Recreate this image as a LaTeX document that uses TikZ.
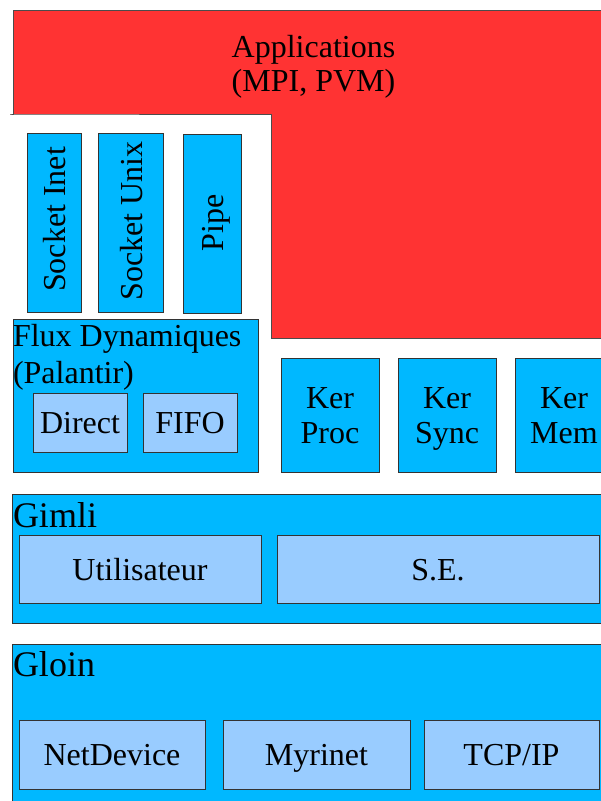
\documentclass[tikz,border=0pt]{standalone}
\usepackage{fontspec}
\setmainfont{Liberation Serif}
\definecolor{appred}{HTML}{FF3333}
\definecolor{layblue}{HTML}{00B8FF}
\definecolor{subblue}{HTML}{99CCFF}
\begin{document}
\begin{tikzpicture}[x=1pt,y=-1pt,
  every node/.style={font=\fontsize{32}{36}\selectfont, inner sep=0pt, outer sep=0pt},
  bluebox/.style={draw=black!80, line width=0.8pt, fill=layblue, anchor=north west},
  subbox/.style={draw=black!80, line width=0.8pt, fill=subblue, anchor=north west},
  txt/.style={anchor=base},
  ltxt/.style={anchor=base west},
  vtxt/.style={anchor=base, rotate=90},
  biglabel/.style={font=\fontsize{36}{40}\selectfont, anchor=base west}]
\useasboundingbox (0,0) rectangle (601,801);
\clip (0,0) rectangle (601,801);
% Applications
\draw[draw=black!70, line width=0.8pt, fill=appred]
  (13,10) -- (610,10) -- (610,338) -- (271,338) -- (271,114) -- (10,114) -- (13,114) -- cycle;
\node[txt] (app1) at (313.5,57) {Applications};
\node[txt] (app2) at (313.5,91) {(MPI, PVM)};
% Sockets
\node[bluebox, minimum width=54, minimum height=179] (sinet) at (27,133) {};
\node[vtxt] (sinettxt) at (65,219.5) {Socket Inet};
\node[bluebox, minimum width=65, minimum height=179] (sunix) at (98,133) {};
\node[vtxt] (sunixtxt) at (142,221) {Socket Unix};
\node[bluebox, minimum width=58, minimum height=179] (pipe) at (183,134) {};
\node[vtxt] (pipetxt) at (223,223) {Pipe};
% Flux
\node[bluebox, minimum width=245, minimum height=153] (flux) at (13,319) {};
\node[ltxt] (fluxtxt1) at (13,346) {Flux Dynamiques};
\node[ltxt] (fluxtxt2) at (13,383) {(Palantir)};
\node[subbox, minimum width=94, minimum height=59] (direct) at (33,393) {};
\node[txt] (directtxt) at (80,433) {Direct};
\node[subbox, minimum width=94, minimum height=59] (fifo) at (143,393) {};
\node[txt] (fifotxt) at (190,433) {FIFO};
% Kernel modules
\node[bluebox, minimum width=98, minimum height=114] (kproc) at (281,358) {};
\node[txt] (kproc1) at (330,408) {Ker};
\node[txt] (kproc2) at (330,443) {Proc};
\node[bluebox, minimum width=98, minimum height=114] (ksync) at (398,358) {};
\node[txt] (ksync1) at (447,408) {Ker};
\node[txt] (ksync2) at (447,443) {Sync};
\node[bluebox, minimum width=98, minimum height=114] (kmem) at (515,358) {};
\node[txt] (kmem1) at (564,408) {Ker};
\node[txt] (kmem2) at (564,443) {Mem};
% Gimli
\node[bluebox, minimum width=600, minimum height=129] (gimli) at (12,494) {};
\node[biglabel] (gimlitxt) at (13,527) {Gimli};
\node[subbox, minimum width=242, minimum height=68] (util) at (19,535) {};
\node[txt] (utiltxt) at (140,580) {Utilisateur};
\node[subbox, minimum width=322, minimum height=68] (se) at (277,535) {};
\node[txt] (setxt) at (438,580) {S.E.};
% Gloin
\node[bluebox, minimum width=600, minimum height=170] (gloin) at (12,644) {};
\node[biglabel] (gloinlbl) at (13,676) {Gloin};
\node[subbox, minimum width=186, minimum height=69] (netdev) at (19,720) {};
\node[txt] (netdevtxt) at (112,765) {NetDevice};
\node[subbox, minimum width=187, minimum height=69] (myri) at (223,720) {};
\node[txt] (myritxt) at (316.5,765) {Myrinet};
\node[subbox, minimum width=175, minimum height=69] (tcp) at (424,720) {};
\node[txt] (tcptxt) at (511.5,765) {TCP/IP};
\end{tikzpicture}
\end{document}
